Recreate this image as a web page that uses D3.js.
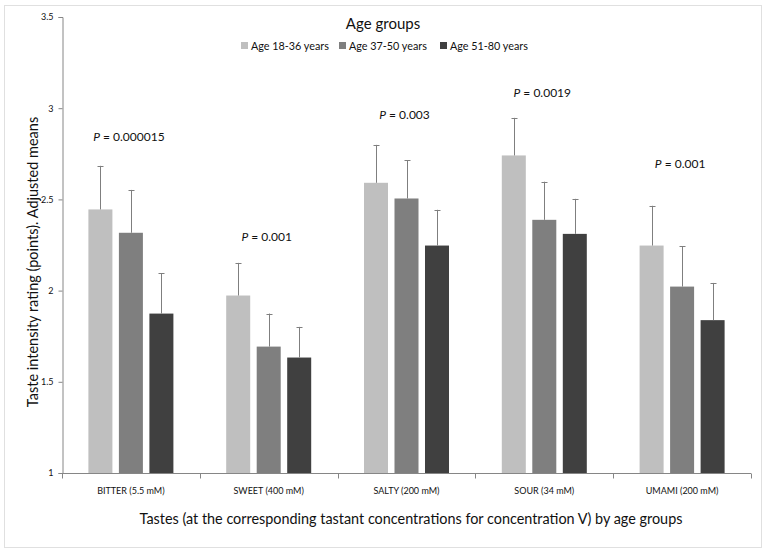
<!DOCTYPE html>
<html>
<head>
<meta charset="utf-8">
<script src="https://cdn.jsdelivr.net/npm/d3@7"></script>
<style>
  body { margin: 0; background: #fff; }
  text { font-family: Lato, "Liberation Sans", sans-serif; fill: #111; }
</style>
</head>
<body>
<div id="graphHolder"></div>
<script>
var tastes = ["BITTER (5.5 mM)", "SWEET (400 mM)", "SALTY (200 mM)", "SOUR (34 mM)", "UMAMI (200 mM)"];
var groups = ["Age 18-36 years", "Age 37-50 years", "Age 51-80 years"];
var young  = [2.445, 1.973, 2.591, 2.741, 2.247];
var middle = [2.317, 1.693, 2.505, 2.388, 2.022];
var older  = [1.874, 1.633, 2.247, 2.311, 1.838];
var youngErr  = [0.239, 0.179, 0.208, 0.206, 0.218];
var middleErr = [0.235, 0.181, 0.209, 0.209, 0.220];
var olderErr  = [0.220, 0.168, 0.196, 0.192, 0.204];
var pLabels = ["0.000015", "0.001", "0.003", "0.0019", "0.001"];
var pLabelAt = [2.85, 2.30, 2.97, 3.09, 2.70];
var yTicks = [1, 1.5, 2, 2.5, 3, 3.5];

var graphWidth = 767, graphHeight = 556;
var colors = ["#bfbfbf", "#7f7f7f", "#404040"];

var svg = d3.select("#graphHolder")
        .append("svg").attr("id", "graph")
        .attr("width", graphWidth)
        .attr("height", graphHeight);

// chart frame
svg.append("rect")
        .attr("x", 4.5).attr("y", 5.5)
        .attr("width", 757).attr("height", 542)
        .attr("fill", "none")
        .attr("stroke", "#e0e0e0");

var x = d3.scaleBand()
        .domain(tastes)
        .range([62, 751]);

var xInner = d3.scaleBand()
        .domain(groups)
        .range([0, 85])
        .paddingInner(0.213);

var y = d3.scaleLinear()
        .domain([1, 3.5])
        .range([473, 17]);

var series = [young, middle, older];
var errs = [youngErr, middleErr, olderErr];
var rows = [];
groups.forEach(function (g, gi) {
    tastes.forEach(function (t, ti) {
        rows.push({taste: t, group: g, gi: gi, v: series[gi][ti], e: errs[gi][ti]});
    });
});

function barX(d) {
    return x(d.taste) + x.bandwidth() / 2 - 42.5 + xInner(d.group);
}
function barMid(d) {
    return Math.round(barX(d) + xInner.bandwidth() / 2);
}

// bars
svg.append("g").selectAll("rect")
        .data(rows)
        .enter().append("rect")
        .attr("x", barX)
        .attr("y", function (d) { return y(d.v); })
        .attr("width", xInner.bandwidth())
        .attr("height", function (d) { return y(1) - y(d.v); })
        .attr("fill", function (d) { return colors[d.gi]; });

// error bars (upper only)
var eb = svg.append("g")
        .attr("stroke", "#7f7f7f")
        .attr("stroke-width", 1);
eb.selectAll("line.v")
        .data(rows)
        .enter().append("line")
        .attr("class", "v")
        .attr("x1", function (d) { return barMid(d) + 0.5; })
        .attr("x2", function (d) { return barMid(d) + 0.5; })
        .attr("y1", function (d) { return y(d.v); })
        .attr("y2", function (d) { return y(d.v + d.e); });
eb.selectAll("line.c")
        .data(rows)
        .enter().append("line")
        .attr("class", "c")
        .attr("x1", function (d) { return barMid(d) - 2.5; })
        .attr("x2", function (d) { return barMid(d) + 3.5; })
        .attr("y1", function (d) { return Math.round(y(d.v + d.e)) + 0.5; })
        .attr("y2", function (d) { return Math.round(y(d.v + d.e)) + 0.5; });

// y axis
var yAxis = svg.append("g")
        .attr("transform", "translate(62.5,0)")
        .call(d3.axisLeft(y).tickValues(yTicks).tickSize(4).tickPadding(5)
                .tickFormat(function (d) { return String(d); }));
yAxis.select(".domain").attr("stroke", "#868686");
yAxis.selectAll("line").attr("stroke", "#868686");
yAxis.selectAll("text").attr("font-size", 9).attr("font-family", "Lato, sans-serif").attr("fill", "#222");

// x axis
var xAxis = svg.append("g")
        .attr("transform", "translate(0,473.5)");
xAxis.append("line")
        .attr("x1", 62).attr("x2", 751)
        .attr("stroke", "#868686");
xAxis.selectAll("line.tick")
        .data(tastes.concat(["end"]))
        .enter().append("line")
        .attr("class", "tick")
        .attr("x1", function (d, i) { return Math.round(i < tastes.length ? x(d) : x.range()[1]) + 0.5; })
        .attr("x2", function (d, i) { return Math.round(i < tastes.length ? x(d) : x.range()[1]) + 0.5; })
        .attr("y1", 0).attr("y2", 5)
        .attr("stroke", "#868686");
xAxis.selectAll("text")
        .data(tastes)
        .enter().append("text")
        .attr("x", function (d) { return x(d) + x.bandwidth() / 2; })
        .attr("y", 20)
        .attr("text-anchor", "middle")
        .attr("font-size", 9)
        .text(function (d) { return d; });

// P value annotations
var pt = svg.append("g").selectAll("text")
        .data(tastes)
        .enter().append("text")
        .attr("x", function (d) { return x(d) + x.bandwidth() / 2 - 2; })
        .attr("y", function (d, i) { return y(pLabelAt[i]) + 5; })
        .attr("text-anchor", "middle")
        .attr("font-size", 12);
pt.append("tspan").attr("font-style", "italic").text("P");
pt.append("tspan").text(function (d, i) { return " = " + pLabels[i]; });

// legend
svg.append("text")
        .attr("x", 383).attr("y", 29)
        .attr("text-anchor", "middle")
        .attr("font-size", 15)
        .text("Age groups");
var legX = [241, 339, 440];
var leg = svg.append("g").selectAll("g")
        .data(groups)
        .enter().append("g")
        .attr("transform", function (d, i) { return "translate(" + legX[i] + ",42)"; });
leg.append("rect")
        .attr("width", 7).attr("height", 7)
        .attr("fill", function (d, i) { return colors[i]; });
leg.append("text")
        .attr("x", 10).attr("y", 7.5)
        .attr("font-size", 10.8)
        .text(function (d) { return d; });

// axis titles
svg.append("text")
        .attr("transform", "translate(38,262) rotate(-90)")
        .attr("text-anchor", "middle")
        .attr("font-size", 14.5)
        .text("Taste intensity rating (points). Adjusted means");
svg.append("text")
        .attr("x", 411).attr("y", 524)
        .attr("text-anchor", "middle")
        .attr("font-size", 14.4)
        .text("Tastes (at the corresponding tastant concentrations for concentration V) by age groups");
</script>
</body>
</html>
